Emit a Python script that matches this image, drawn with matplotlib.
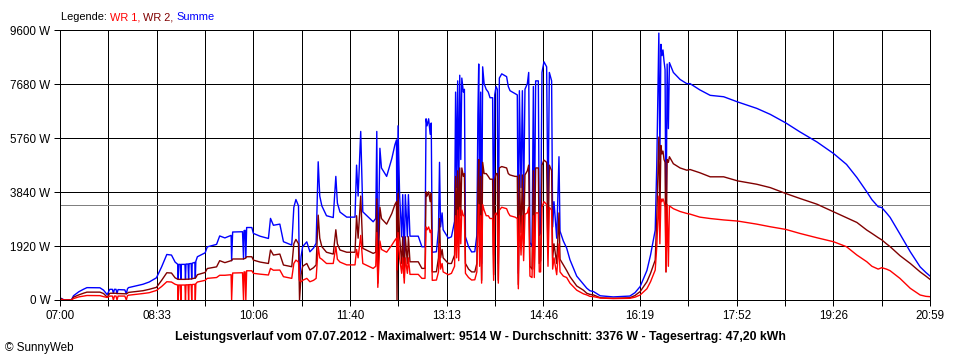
import numpy as np
import matplotlib
matplotlib.use("Agg")
import matplotlib.pyplot as plt

plt.rcParams['font.family'] = ['Liberation Sans', 'DejaVu Sans']

# ---- data: minutes after 07:00, power of WR 1 and WR 2 in W ----
minutes = [
    0, 2, 4, 11, 13, 18, 22.5, 26, 38.5, 42,
    45.5, 48, 50.5, 51.5, 52.5, 54, 55, 56, 62.5, 64,
    65, 66, 80, 86, 93, 98, 103, 107.5, 111, 113.5,
    114, 114.5, 116, 116.5, 117, 120.5, 121, 121.5, 123.5, 124,
    124.5, 126.5, 127, 127.5, 130, 130.5, 131, 132.5, 140, 142,
    151, 154, 159, 165, 165.5, 166.5, 176, 177, 177.5, 178.5,
    179.2, 180, 185, 186.5, 193, 201, 203, 205.8, 212, 215.5,
    223.5, 225.5, 227.5, 230, 231, 232.5, 234, 238, 241, 244.5,
    247, 249, 250.5, 252.5, 257, 263.5, 266, 267.5, 270, 276.5,
    284.5, 286, 287.5, 290, 292, 302, 304.5, 305.5, 306.5, 308.5,
    310, 315, 320, 323, 324.5, 325, 326, 327.5, 329.5, 330.5,
    332, 333, 335, 336, 337.5, 345.5, 349, 352, 353, 354,
    355.5, 357, 358, 359, 363, 365, 366, 367, 368.5, 369.5,
    374.5, 377.5, 380.5, 381.5, 382.5, 383.5, 384.5, 385.5, 386.5, 387.5,
    389, 390, 391, 394, 397, 400, 402, 403, 403.8, 404.7,
    405.7, 406.6, 407.6, 409, 411, 413, 414.7, 417.2, 418.2, 419.2,
    420.5, 421.7, 422.7, 423.7, 426, 430.7, 432.3, 434, 438.8, 441,
    442, 443, 444.6, 445.9, 447.1, 448.4, 450.7, 452, 453.2, 455.2,
    456.5, 457.4, 458.7, 461.3, 462.2, 463.5, 464.8, 466.7, 469.3, 470.6,
    471.9, 474.1, 475.1, 476.4, 479, 481.2, 482.2, 485.4, 488.6, 491.8,
    498.3, 504.7, 508, 511, 514.5, 521, 533.5, 549.5, 554.5, 559.5,
    566, 569.5, 574, 575.5, 576.5, 577.5, 578.5, 579.5, 580.5, 581.5,
    582.5, 583.5, 584.4, 585.5, 586.7, 587.7, 591.5, 598, 604.5, 607.6,
    617, 627, 640, 653.5, 672, 685, 700, 713.5, 730, 746,
    758.5, 768.5, 778, 783, 789, 792.5, 797, 800.5, 810, 820,
    829.5, 835, 839,
]
wr1 = [
    20, 10, 0, 0, 50, 110, 140, 160, 155, 120,
    90, 140, 140, 0, 140, 140, 0, 140, 140, 0,
    150, 170, 230, 260, 340, 480, 650, 640, 560, 533,
    0, 533, 533, 0, 533, 533, 0, 540, 540, 0,
    545, 550, 0, 550, 560, 0, 580, 640, 700, 770,
    800, 880, 880, 900, 0, 960, 970, 0, 1000, 1000,
    0, 1040, 1040, 950, 920, 890, 1125, 1060, 1066, 830,
    770, 1300, 1420, 1350, 700, 650, 700, 770, 650, 700,
    770, 1900, 1500, 1450, 1300, 1300, 1900, 1450, 1350, 1250,
    1250, 1800, 1500, 2300, 1300, 1125, 1200, 2400, 450, 2100,
    1800, 1700, 1955, 2130, 2200, 1066, 2400, 1500, 950, 1500,
    600, 1500, 950, 1500, 912, 912, 770, 770, 2600, 2500,
    2600, 2400, 2500, 700, 710, 1000, 2000, 1100, 1300, 1000,
    900, 950, 1200, 3000, 1500, 3200, 1400, 3300, 2000, 3200,
    3000, 3000, 950, 800, 710, 720, 1000, 2600, 3400, 1200,
    3000, 600, 3400, 3200, 3000, 3000, 2900, 2900, 700, 3000,
    3100, 3000, 600, 3200, 3300, 3250, 3100, 3000, 2950, 2900,
    400, 3000, 1600, 3000, 1400, 3050, 3100, 3300, 850, 800,
    3000, 800, 3100, 3100, 1000, 1000, 3300, 3500, 3400, 1200,
    3300, 3200, 1100, 1500, 900, 2000, 1000, 850, 800, 600,
    350, 220, 180, 130, 120, 70, 50, 60, 100, 180,
    400, 650, 1066, 1900, 2800, 3700, 2000, 3600, 3500, 3600,
    3500, 3300, 1000, 3400, 1200, 3350, 3250, 3150, 3080, 3057,
    2950, 2900, 2850, 2810, 2700, 2607, 2512, 2370, 2215, 2074,
    1896, 1600, 1363, 1200, 1100, 1150, 1100, 1043, 770, 415,
    178, 130, 118,
]
wr2 = [
    60, 30, 0, 0, 100, 180, 240, 280, 280, 230,
    100, 240, 240, 240, 240, 240, 230, 230, 220, 220,
    240, 270, 330, 380, 450, 700, 970, 960, 790, 740,
    735, 735, 735, 735, 735, 735, 735, 740, 740, 740,
    745, 750, 750, 760, 780, 780, 800, 900, 980, 1120,
    1180, 1400, 1330, 1400, 1400, 1460, 1460, 1460, 1470, 1480,
    1500, 1540, 1540, 1420, 1350, 1300, 1780, 1600, 1635, 1245,
    1185, 2000, 2157, 2000, 0, 900, 1200, 1300, 1066, 1150,
    1250, 3020, 2200, 1900, 1700, 1635, 2500, 2000, 1780, 1700,
    1700, 3000, 2200, 3700, 1840, 1660, 1700, 3600, 600, 3300,
    2900, 2700, 3080, 3400, 3500, 0, 3800, 2250, 1300, 2250,
    800, 2250, 1300, 2250, 1360, 1360, 1125, 1125, 3850, 3700,
    3850, 3500, 3800, 1000, 1007, 1500, 2900, 1500, 1800, 1500,
    1300, 1300, 1600, 4400, 2500, 4600, 2000, 4700, 3000, 4700,
    4400, 4500, 1300, 1100, 1000, 1000, 1300, 4000, 5000, 1700,
    4400, 700, 4900, 4500, 4500, 4400, 4300, 4300, 900, 4300,
    4500, 4500, 700, 4700, 4750, 4700, 4500, 4450, 4400, 4400,
    550, 4450, 2400, 4450, 2000, 4450, 4600, 4800, 1200, 1100,
    4600, 1100, 4700, 4700, 1300, 1400, 4800, 4980, 4900, 1700,
    4800, 4600, 1500, 2000, 1300, 3100, 1450, 1250, 1050, 830,
    500, 350, 240, 200, 180, 80, 60, 80, 160, 300,
    650, 950, 1420, 2900, 4300, 5800, 3000, 5500, 5200, 5300,
    5000, 4900, 1000, 5000, 4900, 5100, 4850, 4700, 4620, 4645,
    4530, 4385, 4385, 4240, 4120, 4000, 3790, 3615, 3410, 3140,
    2930, 2760, 2490, 2370, 2220, 2140, 2000, 1900, 1580, 1300,
    1000, 850, 735,
]
average_w = 3376
y_ticks = [0, 1920, 3840, 5760, 7680, 9600]
x_tick_labels = ["07:00", "08:33", "10:06", "11:40", "13:13",
                 "14:46", "16:19", "17:52", "19:26", "20:59"]
day_span_min = 839
title_text = ("Leistungsverlauf vom 07.07.2012 - Maximalwert: 9514 W - "
              "Durchschnitt: 3376 W - Tagesertrag: 47,20 kWh")

t = np.array(minutes, dtype=float)
p1 = np.array(wr1, dtype=float)
p2 = np.array(wr2, dtype=float)
summe = p1 + p2

W, H = 960, 360
fig = plt.figure(figsize=(W / 100, H / 100), dpi=100)
fig.patch.set_facecolor('white')
ax = fig.add_axes([60 / W, 1 - 300 / H, 870 / W, 269.7 / H])

# grid
grid_x = np.linspace(0, day_span_min, 19)
for gx in grid_x:
    ax.axvline(gx, color='black', lw=0.72, zorder=1, snap=True)
for gy in y_ticks:
    ax.axhline(gy, color='black', lw=0.72, zorder=1, snap=True)
ax.axhline(average_w, color='#808080', lw=0.72, zorder=2, snap=True)

ax.plot(t, summe, color='#0000FF', lw=1.0, zorder=3)
ax.plot(t, p2, color='#800000', lw=1.0, zorder=4)
ax.plot(t, p1, color='#FF0000', lw=1.0, zorder=5)

ax.set_xlim(0, day_span_min)
ax.set_ylim(0, 9600)
ax.set_yticks(y_ticks)
ax.set_yticklabels([f"{v} W" for v in y_ticks])
ax.set_xticks(grid_x)
labels = []
for i in range(len(grid_x)):
    labels.append(x_tick_labels[i // 2] if i % 2 == 0 else "")
ax.set_xticklabels(labels)
ax.tick_params(axis='both', direction='out', length=4, width=0.72,
               color='black', labelsize=8.4, pad=3)
for s in ax.spines.values():
    s.set_color('black')
    s.set_linewidth(0.72)
    s.set_zorder(6)

# legend text at the top
fig.canvas.draw()
renderer = fig.canvas.get_renderer()
x = 61 / W
y = 1 - 17 / H
for txt, col in [("Legende: ", "black"), ("WR 1, ", "#FF0000"),
                 ("WR 2, ", "#800000"), ("Summe", "#0000FF")]:
    tt = fig.text(x, y, txt, color=col, fontsize=7.9, va='center', ha='left')
    bb = tt.get_window_extent(renderer)
    x += bb.width / W

fig.text(480 / W, 1 - 337 / H, title_text, fontsize=8.85, fontweight='bold',
         ha='center', va='center')
fig.text(5 / W, 1 - 348 / H, "\u00a9 SunnyWeb", fontsize=8.4,
         ha='left', va='center')

fig.savefig("out.png", dpi=100)
